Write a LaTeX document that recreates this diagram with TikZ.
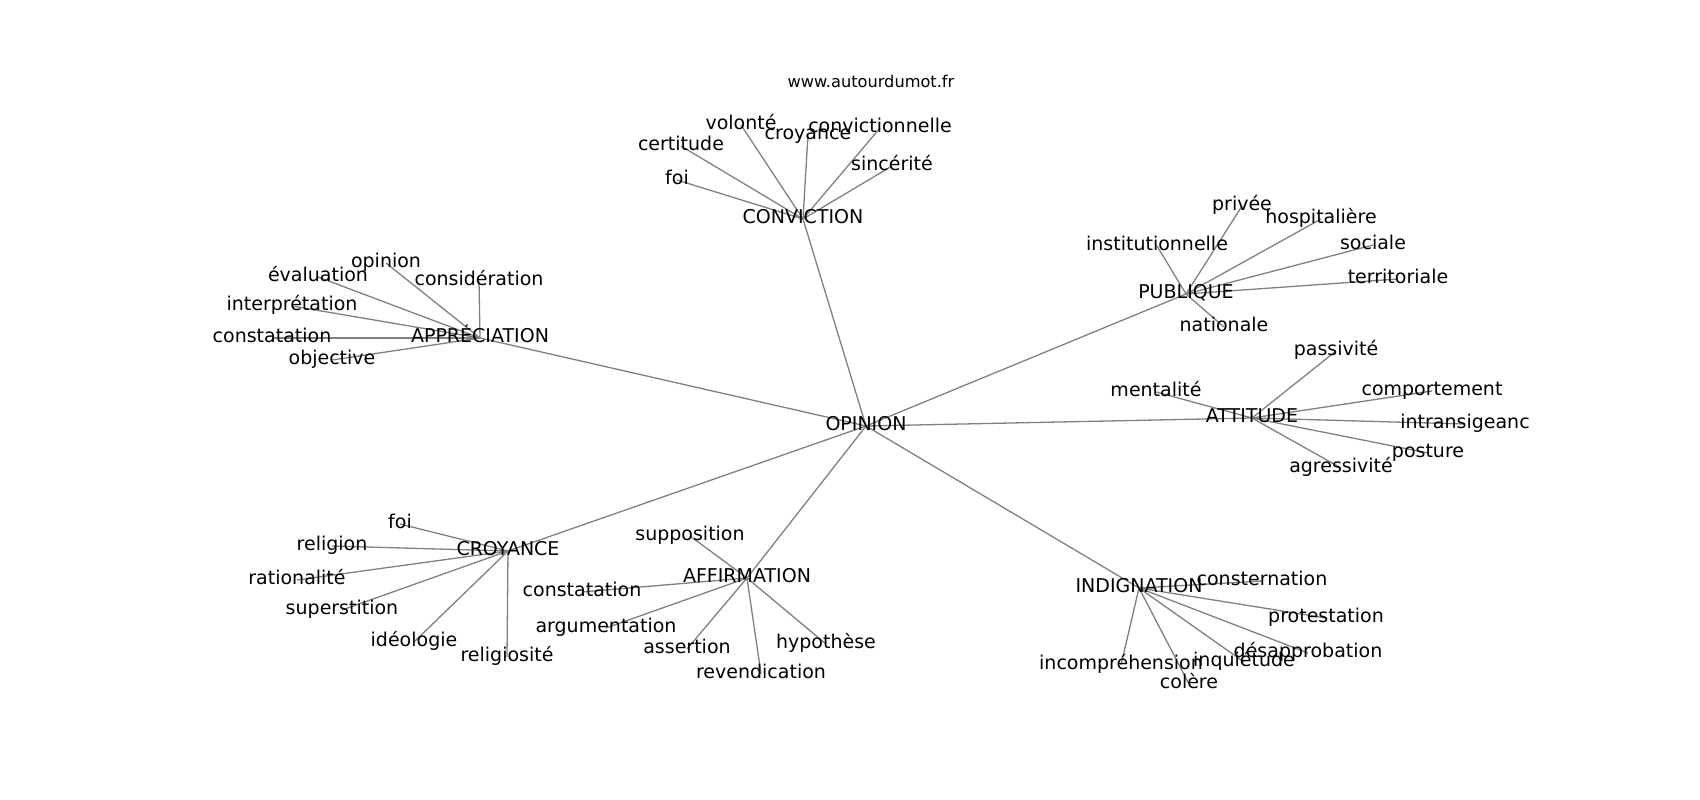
\documentclass[tikz,border=0pt]{standalone}
\usepackage{fontspec}
\setmainfont{DejaVu Sans}
\usetikzlibrary{backgrounds}
\tikzset{
  lbl/.style={font=\fontsize{19}{22}\selectfont, inner sep=0pt, text height=14.4pt, text depth=4.6pt, anchor=center},
  ttl/.style={font=\fontsize{16.2}{19}\selectfont, inner sep=0pt, text height=12.3pt, text depth=3.9pt, anchor=center},
  edge/.style={draw=gray, line width=1.3pt}
}
\begin{document}
\begin{tikzpicture}[x=1pt,y=-1pt]
\useasboundingbox (0,0) rectangle (1700,800);
\node[ttl] (title) at (871,83) {www.autourdumot.fr};
% hubs
\node[lbl] (opinion) at (866,426) {OPINION};
\node[lbl] (conviction) at (803,219) {CONVICTION};
\node[lbl] (appreciation) at (480,338) {APPRÉCIATION};
\node[lbl] (publique) at (1186,294) {PUBLIQUE};
\node[lbl] (attitude) at (1252,418) {ATTITUDE};
\node[lbl] (croyance) at (508,551) {CROYANCE};
\node[lbl] (affirmation) at (747,578) {AFFIRMATION};
\node[lbl] (indignation) at (1139,588) {INDIGNATION};
% conviction leaves
\node[lbl] (cfoi) at (677,180) {foi};
\node[lbl] (ccertitude) at (681,146) {certitude};
\node[lbl] (cvolonte) at (741,125) {volonté};
\node[lbl] (ccroyance) at (808,135) {croyance};
\node[lbl] (cconvictionnelle) at (880,128) {convictionnelle};
\node[lbl] (csincerite) at (892,166) {sincérité};
% appreciation leaves
\node[lbl] (aopinion) at (386,263) {opinion};
\node[lbl] (aevaluation) at (318,277) {évaluation};
\node[lbl] (aconsideration) at (479,281) {considération};
\node[lbl] (ainterpretation) at (292,306) {interprétation};
\node[lbl] (aconstatation) at (272,338) {constatation};
\node[lbl] (aobjective) at (332,360) {objective};
% publique leaves
\node[lbl] (pprivee) at (1242,206) {privée};
\node[lbl] (phospitaliere) at (1321,219) {hospitalière};
\node[lbl] (pinstitutionnelle) at (1157,246) {institutionnelle};
\node[lbl] (psociale) at (1373,245) {sociale};
\node[lbl] (pterritoriale) at (1398,279) {territoriale};
\node[lbl] (pnationale) at (1224,327) {nationale};
% attitude leaves
\node[lbl] (tpassivite) at (1336,351) {passivité};
\node[lbl] (tmentalite) at (1156,392) {mentalité};
\node[lbl] (tcomportement) at (1432,391) {comportement};
\node[lbl] (tintransigeanc) at (1465,424) {intransigeanc};
\node[lbl] (tposture) at (1428,453) {posture};
\node[lbl] (tagressivite) at (1341,468) {agressivité};
% croyance leaves
\node[lbl] (yfoi) at (400,524) {foi};
\node[lbl] (yreligion) at (332,546) {religion};
\node[lbl] (yrationalite) at (297,580) {rationalité};
\node[lbl] (ysuperstition) at (342,610) {superstition};
\node[lbl] (yideologie) at (414,642) {idéologie};
\node[lbl] (yreligiosite) at (507,657) {religiosité};
% affirmation leaves
\node[lbl] (fsupposition) at (690,536) {supposition};
\node[lbl] (fconstatation) at (582,592) {constatation};
\node[lbl] (fargumentation) at (606,628) {argumentation};
\node[lbl] (fassertion) at (687,649) {assertion};
\node[lbl] (frevendication) at (761,674) {revendication};
\node[lbl] (fhypothese) at (826,644) {hypothèse};
% indignation leaves
\node[lbl] (iconsternation) at (1262,581) {consternation};
\node[lbl] (iprotestation) at (1326,618) {protestation};
\node[lbl] (idesapprobation) at (1308,653) {désapprobation};
\node[lbl] (iinquietude) at (1244,662) {inquiétude};
\node[lbl] (iincomprehension) at (1121,665) {incompréhension};
\node[lbl] (icolere) at (1189,684) {colère};
\begin{scope}[on background layer]
\foreach \h in {conviction,appreciation,publique,attitude,croyance,affirmation,indignation}
  \draw[edge] (opinion.center) -- (\h.center);
\foreach \l in {cfoi,ccertitude,cvolonte,ccroyance,cconvictionnelle,csincerite}
  \draw[edge] (conviction.center) -- (\l.center);
\foreach \l in {aopinion,aevaluation,aconsideration,ainterpretation,aconstatation,aobjective}
  \draw[edge] (appreciation.center) -- (\l.center);
\foreach \l in {pprivee,phospitaliere,pinstitutionnelle,psociale,pterritoriale,pnationale}
  \draw[edge] (publique.center) -- (\l.center);
\foreach \l in {tpassivite,tmentalite,tcomportement,tintransigeanc,tposture,tagressivite}
  \draw[edge] (attitude.center) -- (\l.center);
\foreach \l in {yfoi,yreligion,yrationalite,ysuperstition,yideologie,yreligiosite}
  \draw[edge] (croyance.center) -- (\l.center);
\foreach \l in {fsupposition,fconstatation,fargumentation,fassertion,frevendication,fhypothese}
  \draw[edge] (affirmation.center) -- (\l.center);
\foreach \l in {iconsternation,iprotestation,idesapprobation,iinquietude,iincomprehension,icolere}
  \draw[edge] (indignation.center) -- (\l.center);
\end{scope}
\end{tikzpicture}
\end{document}
